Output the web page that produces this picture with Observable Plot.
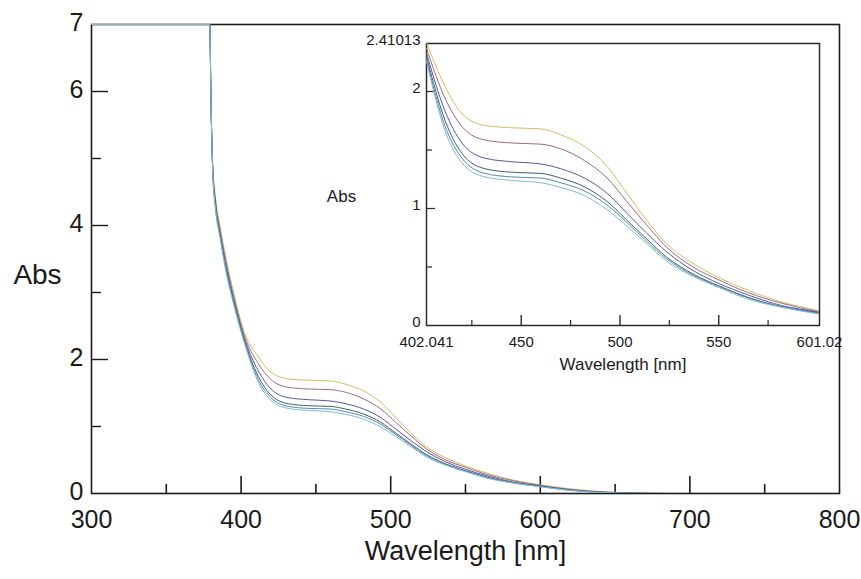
<!DOCTYPE html>
<html><head><meta charset="utf-8">
<script src="https://cdn.jsdelivr.net/npm/d3@7"></script>
<script src="https://cdn.jsdelivr.net/npm/@observablehq/plot@0.6"></script>
<style>
body{margin:0;background:#fff;}
#wrap{position:relative;width:861px;height:579px;overflow:hidden;}
#wrap svg{position:absolute;}
</style></head><body><div id="wrap"></div>
<script>
// ---- data ----
const wavelengths = [300, 379, 380, 381, 383, 386, 390, 395, 402, 411.5, 420, 431.6, 445, 460, 470, 482, 493.5, 503.5, 513.5, 523.6, 537, 550, 565, 582, 600, 620, 640, 660, 685];
const seriesNames = ["S1", "S2", "S3", "S4", "S5", "S6"];
const seriesColors = ["#d2bd62", "#a06a7c", "#5656a6", "#3f6262", "#5a86b4", "#7cbcd2"];
const s1 = [7, 7, 5.7, 4.95, 4.4, 3.98, 3.5, 3.0, 2.42, 2.04, 1.81, 1.71, 1.69, 1.68, 1.63, 1.53, 1.36, 1.13, 0.90, 0.70, 0.53, 0.41, 0.30, 0.20, 0.13, 0.07, 0.03, 0.01, 0];
const s2 = [7, 7, 5.7, 4.9, 4.35, 3.93, 3.45, 2.95, 2.37, 1.94, 1.70, 1.585, 1.56, 1.55, 1.51, 1.41, 1.26, 1.06, 0.86, 0.67, 0.50, 0.39, 0.28, 0.19, 0.12, 0.06, 0.025, 0.008, 0];
const s3 = [7, 7, 5.7, 4.87, 4.3, 3.88, 3.38, 2.9, 2.33, 1.83, 1.56, 1.43, 1.40, 1.38, 1.34, 1.26, 1.13, 0.96, 0.79, 0.63, 0.47, 0.36, 0.26, 0.17, 0.115, 0.055, 0.02, 0.005, 0];
const s4 = [7, 7, 5.7, 4.85, 4.27, 3.85, 3.35, 2.87, 2.30, 1.75, 1.47, 1.34, 1.31, 1.30, 1.26, 1.185, 1.06, 0.90, 0.74, 0.585, 0.44, 0.34, 0.24, 0.16, 0.11, 0.05, 0.02, 0.005, 0];
const s5 = [7, 7, 5.7, 4.83, 4.25, 3.83, 3.32, 2.85, 2.28, 1.70, 1.43, 1.30, 1.27, 1.26, 1.22, 1.15, 1.03, 0.88, 0.72, 0.57, 0.43, 0.335, 0.235, 0.16, 0.105, 0.05, 0.018, 0.004, 0];
const s6 = [7, 7, 5.7, 4.8, 4.22, 3.8, 3.3, 2.82, 2.26, 1.66, 1.39, 1.27, 1.24, 1.22, 1.18, 1.11, 0.99, 0.85, 0.70, 0.55, 0.42, 0.325, 0.225, 0.155, 0.10, 0.045, 0.015, 0.003, 0];

// tick labels
const mainXLabels = [300, 400, 500, 600, 700, 800];
const mainXMajor = [400, 500, 600, 700];
const mainXMinor = [350, 450, 550, 650, 750];
const mainYLabels = [0, 2, 4, 6, 7];
const mainYMajor = [2, 4, 6];
const mainYMinor = [1, 3, 5];
const insetXLabels = ["402.041", "450", "500", "550", "601.02"];
const insetXMajor = [450, 500, 550];
const insetXMinor = [425, 475, 525, 575];
const insetYLabels = ["0", "1", "2", "2.41013"];
const insetYMinor = [0.5, 1.5];
const insetYMajor = [1, 2];
const xTitle = "Wavelength [nm]";
const yTitle = "Abs";

// ---- build table ----
const seriesValues = [s1, s2, s3, s4, s5, s6];
const rows = [];
seriesValues.forEach((vals, i) => {
  vals.forEach((v, j) => rows.push({wl: wavelengths[j], abs: v, series: seriesNames[i]}));
});
const insetRows = rows.filter(d => d.wl >= 402 && d.wl <= 620);

const FONT = "Liberation Sans, Arial, Helvetica, sans-serif";
const INK = "#1a1a1a";

// ---- main chart ----
const mW = 861, mH = 579, mL = 91, mR = 22, mT = 24, mB = 86;
const mIW = mW - mL - mR, mIH = mH - mT - mB;
const main = Plot.plot({
  width: mW, height: mH,
  marginLeft: mL, marginRight: mR, marginTop: mT, marginBottom: mB,
  x: {domain: [300, 800], axis: null},
  y: {domain: [0, 7], axis: null},
  color: {domain: seriesNames, range: seriesColors},
  style: {background: "transparent", fontFamily: FONT, overflow: "visible"},
  marks: [
    Plot.frame({stroke: INK, strokeWidth: 1.6}),
    Plot.tickX(mainXMajor, {insetTop: mIH - 17, stroke: INK, strokeWidth: 1.6}),
    Plot.tickX(mainXMinor, {insetTop: mIH - 9, stroke: INK, strokeWidth: 1.6}),
    Plot.tickY(mainYMajor, {insetRight: mIW - 17, stroke: INK, strokeWidth: 1.4}),
    Plot.tickY(mainYMinor, {insetRight: mIW - 10, stroke: INK, strokeWidth: 1.4}),
    Plot.line(rows, {x: "wl", y: "abs", z: "series", stroke: "series", strokeWidth: 1, curve: "monotone-x", clip: true}),
    Plot.text(mainXLabels, {x: d => d, frameAnchor: "bottom", dy: 34, text: d => String(d), fontSize: 25, fill: INK, fontFamily: FONT}),
    Plot.text(mainYLabels, {y: d => d, frameAnchor: "left", dx: -8, dy: -2, textAnchor: "end", text: d => String(d), fontSize: 25, fill: INK, fontFamily: FONT}),
    Plot.text([xTitle], {frameAnchor: "bottom", dy: 66, text: d => d, fontSize: 27, fill: INK, fontFamily: FONT}),
    Plot.text([yTitle], {frameAnchor: "left", dx: -54, dy: 16, textAnchor: "middle", text: d => d, fontSize: 28, fill: INK, fontFamily: FONT})
  ]
});
main.style.left = "0px"; main.style.top = "0px";
document.getElementById("wrap").appendChild(main);

// ---- inset ----
const iLeft = 300, iTop = 30, iW = 540, iH = 360;
const iL = 126, iR = 21, iT = 13, iB = 65;
const iIW = iW - iL - iR, iIH = iH - iT - iB;
const insetXPos = [402.041, 450, 500, 550, 601.02];
const insetYPos = [0, 1, 2, 2.41013];
const inset = Plot.plot({
  width: iW, height: iH,
  marginLeft: iL, marginRight: iR, marginTop: iT, marginBottom: iB,
  x: {domain: [402.041, 601.02], axis: null},
  y: {domain: [0, 2.41013], axis: null},
  color: {domain: seriesNames, range: seriesColors},
  style: {background: "transparent", fontFamily: FONT, overflow: "visible"},
  marks: [
    Plot.frame({stroke: "#2a2a2a", strokeWidth: 1.5}),
    Plot.tickX(insetXMajor, {insetTop: iIH - 10, stroke: "#2a2a2a", strokeWidth: 1.4}),
    Plot.tickX(insetXMinor, {insetTop: iIH - 5, stroke: "#2a2a2a", strokeWidth: 1.2}),
    Plot.tickY(insetYMajor, {insetRight: iIW - 9, stroke: "#2a2a2a", strokeWidth: 1.2}),
    Plot.tickY(insetYMinor, {insetRight: iIW - 6, stroke: "#2a2a2a", strokeWidth: 1.2}),
    Plot.line(insetRows, {x: "wl", y: "abs", z: "series", stroke: "series", strokeWidth: 1, curve: "monotone-x", clip: true}),
    Plot.text(insetXLabels, {x: (d, i) => insetXPos[i], frameAnchor: "bottom", dy: 21, text: d => d, fontSize: 15, fill: INK, fontFamily: FONT}),
    Plot.text(insetYLabels, {y: (d, i) => insetYPos[i], frameAnchor: "left", dx: -6, dy: -3, textAnchor: "end", text: d => d, fontSize: 15, fill: INK, fontFamily: FONT}),
    Plot.text([xTitle], {frameAnchor: "bottom", dy: 44, text: d => d, fontSize: 17, fill: INK, fontFamily: FONT}),
    Plot.text([yTitle], {frameAnchor: "left", dx: -85, dy: 12, textAnchor: "middle", text: d => d, fontSize: 17, fill: INK, fontFamily: FONT})
  ]
});
inset.style.left = iLeft + "px"; inset.style.top = iTop + "px";
document.getElementById("wrap").appendChild(inset);
</script>
</body></html>
